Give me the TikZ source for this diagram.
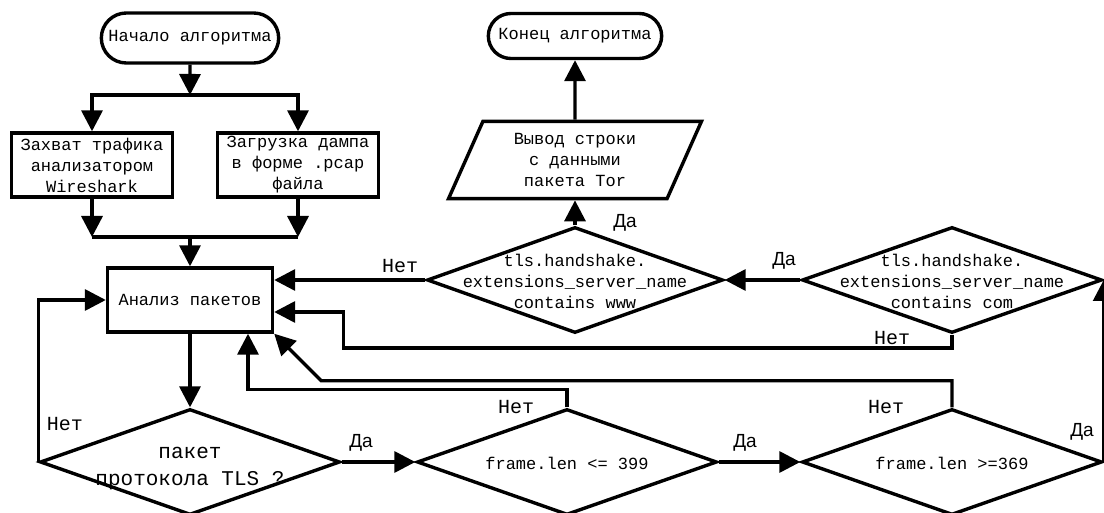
\documentclass[tikz,border=0pt]{standalone}
\usepackage{fontspec}
\setmonofont{Liberation Mono}
\newfontfamily\dafont{Liberation Sans}
\usetikzlibrary{arrows.meta,shapes.geometric,shapes.misc}
\newcommand{\dtxt}[1]{\makebox[0pt]{\raisebox{-.45em}[0pt][0pt]{\begin{tabular}{@{}c@{}}#1\end{tabular}}}}

\begin{document}
\begin{tikzpicture}[x=1pt,y=-1pt,
  every node/.style={font=\ttfamily\fontsize{17}{21}\selectfont},
  terminal/.style={shape=rounded rectangle,draw=black,line width=3.4pt,minimum width=184pt,minimum height=50pt},
  process/.style={shape=rectangle,draw=black,line width=3.4pt,minimum width=161pt,minimum height=64pt,align=center,inner sep=0pt},
  decision/.style={shape=diamond,draw=black,line width=3.4pt,minimum width=300pt,minimum height=106pt,inner sep=0pt},
  output/.style={shape=trapezium,trapezium left angle=66,trapezium right angle=114,trapezium stretches body,draw=black,line width=3.4pt,minimum width=253pt,minimum height=75pt,align=center,inner xsep=2pt,inner ysep=12pt},
  yes/.style={font=\dafont\fontsize{19}{19}\selectfont},
  no/.style={font=\ttfamily\fontsize{20}{20}\selectfont},
  flow/.style={line width=3.4pt,-{Triangle[length=21pt,width=21pt]}},
  link/.style={line width=3.4pt}]
\useasboundingbox (0,0) rectangle (1104,513);
\node[terminal] (start) at (190,38) {Начало алгоритма};
\node[process] (cap) at (92,165) {Захват трафика\\анализатором\\Wireshark};
\node[process] (load) at (298,165) {Загрузка дампа\\в форме .pcap\\файла};
\node[process,minimum width=165pt] (anal) at (190,300) {Анализ пакетов};
\node[decision,font=\ttfamily\fontsize{21}{27}\selectfont] (tls) at (190,462) {\dtxt{пакет\\протокола TLS ?}};
\node[decision] (lenA) at (567,462) {\dtxt{frame.len <= 399}};
\node[decision] (lenB) at (952,462) {\dtxt{frame.len >=369}};
\node[decision] (com) at (952,280) {\dtxt{tls.handshake.\\extensions\_server\_name\\contains com}};
\node[decision,minimum width=296pt] (www) at (575,280) {\dtxt{tls.handshake.\\extensions\_server\_name\\contains www}};
\node[output] (out) at (575,160) {Вывод строки\\с данными\\пакета Tor};
\node[terminal,minimum width=180pt,minimum height=45pt] (end) at (575,36) {Конец алгоритма};
\coordinate (fork) at (190,95);
\coordinate (join) at (190,237);
\node[no] (n1) at (65,424) {Нет};
\node[yes] (y1) at (361,443) {Да};
\node[yes] (y2) at (745,443) {Да};
\node[no] (n2) at (516,407) {Нет};
\node[no] (n3) at (886,407) {Нет};
\node[yes] (y3) at (1082,432) {Да};
\node[yes] (y4) at (784,261) {Да};
\node[no] (n4) at (892,338) {Нет};
\node[no] (n5) at (400,266) {Нет};
\node[yes] (y5) at (625,223) {Да};
\draw[flow] (start) -- (fork);
\draw[flow] (fork) -| (cap);
\draw[flow] (fork) -| (load);
\draw[flow] (cap) -- (cap |- join);
\draw[flow] (load) -- (load |- join);
\draw[link] (cap |- join) -- (load |- join);
\draw[flow] (join) -- (anal);
\draw[flow] (anal) -- (tls);
\draw[flow] (tls.west) |- (anal.west);
\draw[flow] (tls.east) -- (lenA.west);
\draw[flow] (lenA.east) -- (lenB.west);
\draw[flow] (lenA.north) -- ++(0,-18) -| ([xshift=58pt]anal.south);
\draw[flow] (lenB.north) |- ([shift={(47,47)}]anal.south east) -- (anal.south east);
\draw[flow] (lenB.east) -- (com.east);
\draw[flow] (com.west) -- (www.east);
\draw[flow] (com.south) |- ([shift={(69,48)}]anal.east) |- ([yshift=-12pt]anal.east);
\draw[flow] (www.west) -- (www.west -| anal.east);
\draw[flow] (www) -- (out);
\draw[flow] (out) -- (end);
\end{tikzpicture}
\end{document}
